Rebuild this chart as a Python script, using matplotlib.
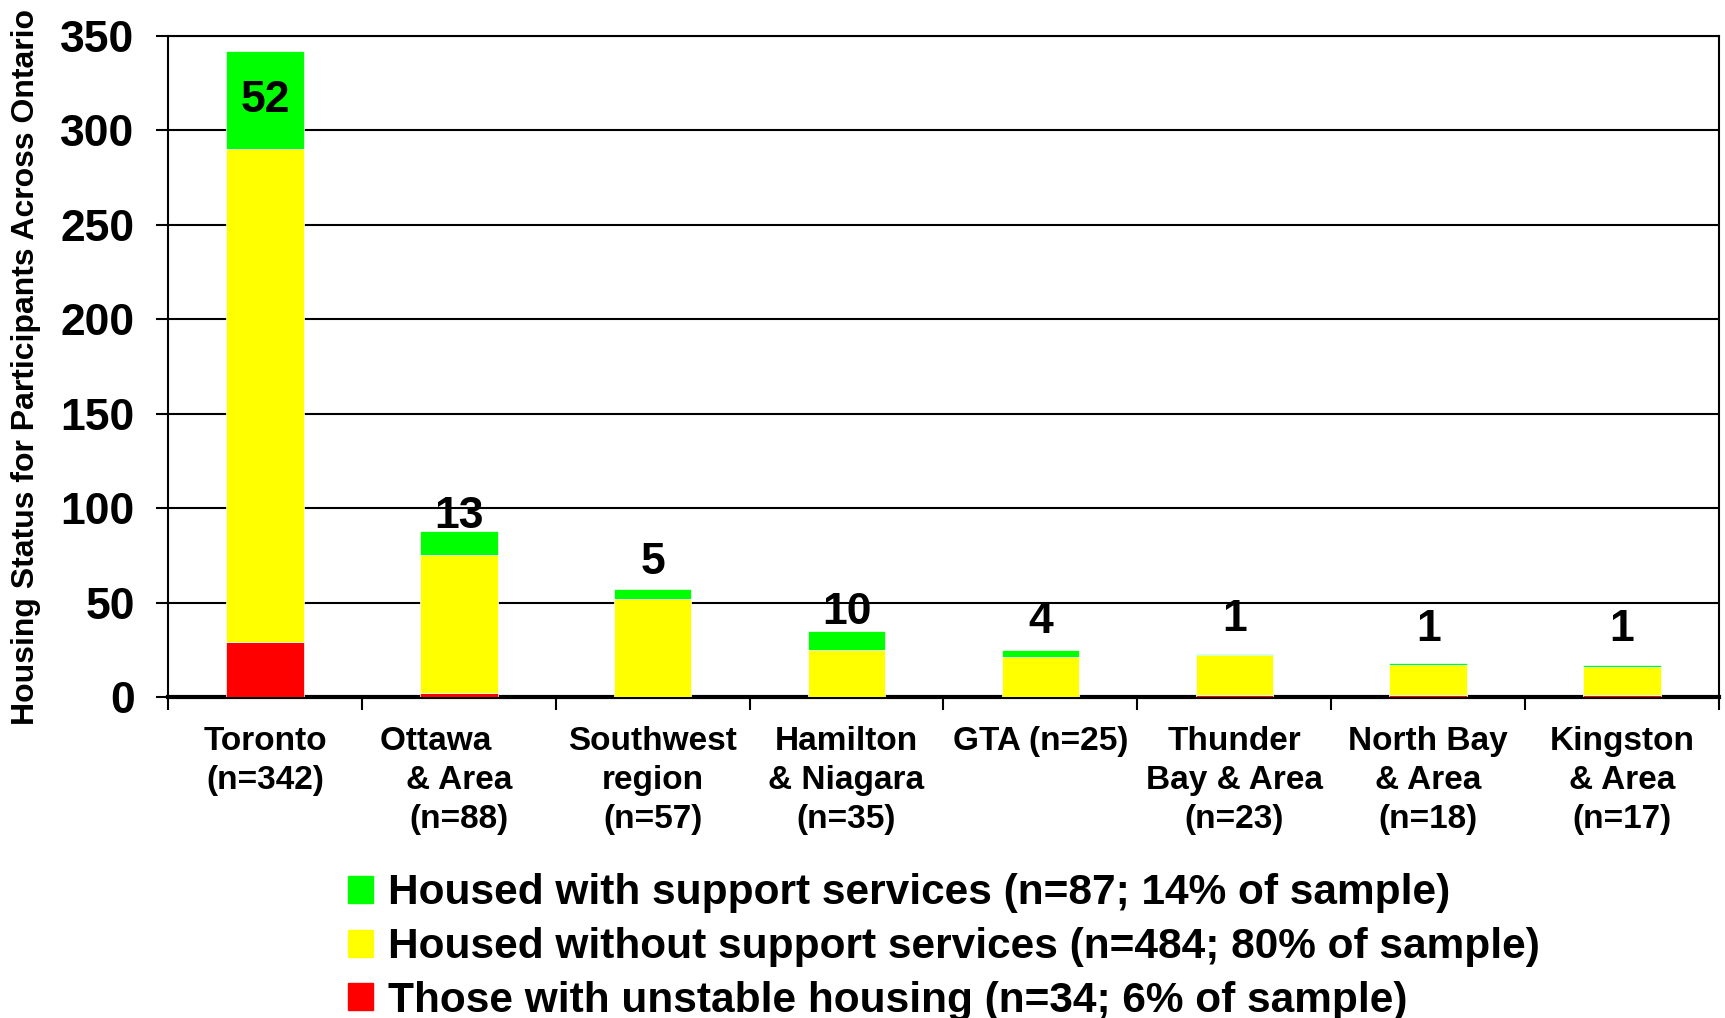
import matplotlib
matplotlib.use('Agg')

import matplotlib.pyplot as plt
import numpy as np
from matplotlib.patches import Patch

plt.rcParams['font.family'] = ['Liberation Sans', 'DejaVu Sans']
plt.rcParams['font.weight'] = 'bold'

regions = ["Toronto\n(n=342)", "Ottawa     \n& Area\n(n=88)", "Southwest\nregion\n(n=57)",
           "Hamilton\n& Niagara\n(n=35)", "GTA (n=25)", "Thunder\nBay & Area\n(n=23)",
           "North Bay\n& Area\n(n=18)", "Kingston\n& Area\n(n=17)"]
unstable = [29, 2, 0, 0, 0, 1, 1, 1]
no_support = [261, 73, 52, 25, 21, 21, 16, 15]
with_support = [52, 13, 5, 10, 4, 1, 1, 1]

legend_labels = ["Housed with support services (n=87; 14% of sample)",
                 "Housed without support services (n=484; 80% of sample)",
                 "Those with unstable housing (n=34; 6% of sample)"]

# how far above each bar its count sits
label_pad = [0, 7.5, 14, 10, 15, 18, 18, 18.5]

unstable = np.array(unstable)
no_support = np.array(no_support)
with_support = np.array(with_support)
x = np.arange(len(regions))

fig = plt.figure(figsize=(17.25, 10.18), dpi=100)
ax = fig.add_axes([0.0974, 0.3153, 0.8991, 0.6493])

w = 0.4
ax.bar(x, unstable, w, color='#ff0000', edgecolor='white', linewidth=0.5, zorder=3)
ax.bar(x, no_support, w, bottom=unstable, color='#ffff00', edgecolor='white', linewidth=0.5, zorder=3)
ax.bar(x, with_support, w, bottom=unstable + no_support, color='#00ff00', edgecolor='white', linewidth=0.5, zorder=3)

totals = unstable + no_support + with_support
for i in range(len(x)):
    if i == 0:
        y = totals[i] - with_support[i] / 2
    else:
        y = totals[i] + label_pad[i]
    ax.text(x[i], y, str(with_support[i]), ha='center', va='center', fontsize=32, fontweight='bold', zorder=4)

ax.set_ylim(0, 350)
ax.set_xlim(-0.5, len(regions) - 0.5)
ax.set_yticks(np.arange(0, 351, 50))
ax.tick_params(axis='y', labelsize=32, length=9, width=1.5, direction='out', pad=15)
ax.yaxis.grid(True, color='black', linewidth=1.5, zorder=0)

ax.set_xticks(x)
ax.set_xticklabels(regions, fontsize=24, fontweight='bold', linespacing=1.32)
ax.set_xticks(np.arange(-0.5, len(regions), 1), minor=True)
ax.tick_params(axis='x', which='major', length=0, pad=21)
ax.tick_params(axis='x', which='minor', length=9, width=1.5, direction='out')

ax.set_ylabel("Housing Status for Participants Across Ontario", fontsize=23, fontweight='bold', labelpad=14)

for s in ['left', 'right', 'top']:
    ax.spines[s].set_linewidth(1.5)
ax.spines['bottom'].set_linewidth(3)

handles = [Patch(color='#00ff00'), Patch(color='#ffff00'), Patch(color='#ff0000')]
fig.legend(handles, legend_labels, loc='upper left', bbox_to_anchor=(0.2017, 0.142),
           frameon=False, handlelength=0.6, handleheight=0.6,
           handletextpad=0.35, labelspacing=0.32, borderpad=0, borderaxespad=0,
           prop={'weight': 'bold', 'size': 30.5})

plt.savefig("out.png", dpi=100)
